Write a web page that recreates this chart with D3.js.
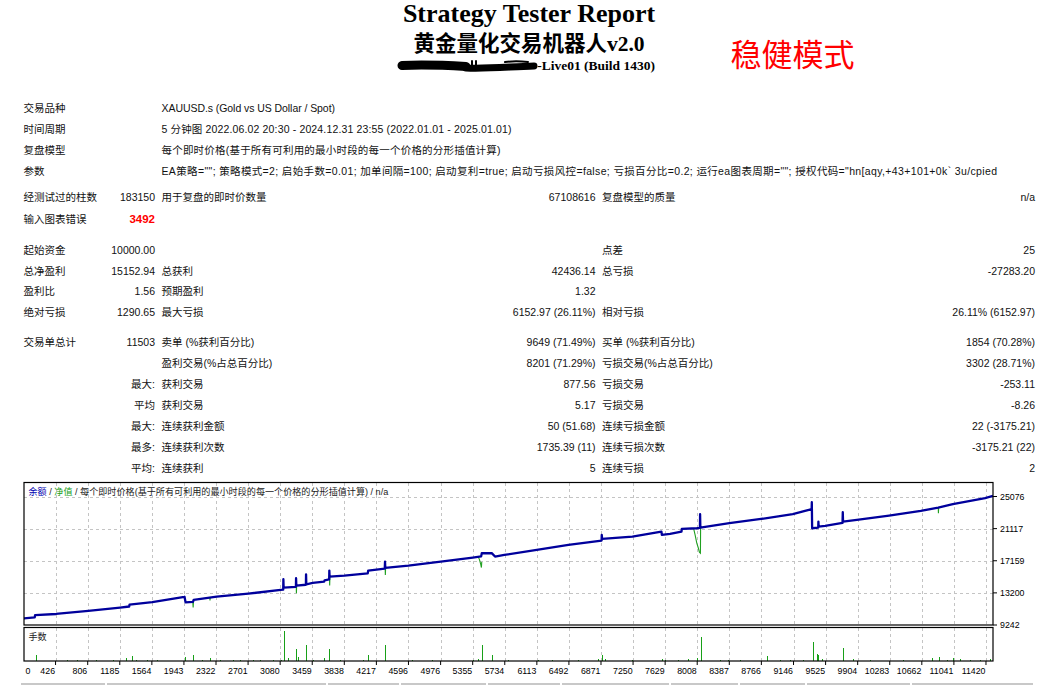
<!DOCTYPE html>
<html>
<head>
<meta charset="utf-8">
<title>Strategy Tester Report</title>
<script src="https://cdn.jsdelivr.net/npm/d3@7"></script>
<style>
  body { margin: 0; background: #fff; }
  svg { display: block; }
  .tbl { font-family: "Liberation Sans", "Noto Sans CJK SC", sans-serif; font-size: 10.5px; fill: #111; }
  .axis-lbl { font-family: "Liberation Sans", "Noto Sans CJK SC", sans-serif; font-size: 8.8px; fill: #000; }
  .legend { font-family: "Liberation Sans", "Noto Sans CJK SC", sans-serif; font-size: 9.1px; fill: #222; }
</style>
</head>
<body>
<div id="report"></div>
<script>
// report header texts
const TITLE = "Strategy Tester Report";
const SUBTITLE = "黄金量化交易机器人v2.0";
const SERVER = "-Live01 (Build 1430)";
const MODE = "稳健模式";

// top info block
const INFO_LABELS = ["交易品种", "时间周期", "复盘模型", "参数"];
const INFO_VALUES = [
  "XAUUSD.s (Gold vs US Dollar / Spot)",
  "5 分钟图 2022.06.02 20:30 - 2024.12.31 23:55 (2022.01.01 - 2025.01.01)",
  "每个即时价格(基于所有可利用的最小时段的每一个价格的分形插值计算)",
  "EA策略=\"\"; 策略模式=2; 启始手数=0.01; 加单间隔=100; 启动复利=true; 启动亏损风控=false; 亏损百分比=0.2; 运行ea图表周期=\"\"; 授权代码=\"hn[aqy,+43+101+0k` 3u/cpied"
];

// results table: label, value, label, value, label, value
const STAT_ROWS = [
  ["经测试过的柱数", "183150", "用于复盘的即时价数量", "67108616", "复盘模型的质量", "n/a"],
  ["输入图表错误", "3492", "", "", "", ""],
  ["起始资金", "10000.00", "", "", "点差", "25"],
  ["总净盈利", "15152.94", "总获利", "42436.14", "总亏损", "-27283.20"],
  ["盈利比", "1.56", "预期盈利", "1.32", "", ""],
  ["绝对亏损", "1290.65", "最大亏损", "6152.97 (26.11%)", "相对亏损", "26.11% (6152.97)"],
  ["交易单总计", "11503", "卖单 (%获利百分比)", "9649 (71.49%)", "买单 (%获利百分比)", "1854 (70.28%)"],
  ["", "", "盈利交易(%占总百分比)", "8201 (71.29%)", "亏损交易(%占总百分比)", "3302 (28.71%)"],
  ["", "最大:", "获利交易", "877.56", "亏损交易", "-253.11"],
  ["", "平均", "获利交易", "5.17", "亏损交易", "-8.26"],
  ["", "最大:", "连续获利金额", "50 (51.68)", "连续亏损金额", "22 (-3175.21)"],
  ["", "最多:", "连续获利次数", "1735.39 (11)", "连续亏损次数", "-3175.21 (22)"],
  ["", "平均:", "连续获利", "5", "连续亏损", "2"]
];

// chart: balance by trade number
const BALANCE = [
  [0, 10000], [180, 10190], [184, 10450], [431, 10600], [813, 10970], [1188, 11390],
  [1296, 11520], [1300, 11750], [1569, 12060], [1948, 12700], [1950, 12720], [1962, 12040],
  [2050, 12080], [2058, 12330], [2330, 12740], [2704, 13110], [3086, 13560], [3116, 13600],
  [3118, 14880], [3121, 13850], [3266, 13950], [3268, 15000], [3271, 14100], [3384, 14200],
  [3386, 15490], [3389, 14260], [3465, 14420], [3600, 14600], [3605, 14750], [3659, 14850],
  [3661, 15950], [3664, 15210], [3838, 15330], [4115, 15600], [4120, 15950], [4316, 16180],
  [4319, 17060], [4322, 16280], [4595, 16566], [4978, 17060], [5356, 17553], [5455, 17700],
  [5462, 18083], [5580, 18100], [5619, 17676], [5729, 17873], [6112, 18490], [6486, 19106],
  [6878, 19649], [6880, 20339], [6884, 19846], [7242, 20142], [7585, 20758], [7590, 20339],
  [7687, 20462], [7822, 20758], [7826, 21079], [8003, 21165], [8040, 21200], [8042, 22891],
  [8045, 21251], [8388, 21782], [8763, 22312], [9137, 22891], [9360, 23508], [9362, 24371],
  [9366, 21165], [9438, 21250], [9440, 21991], [9443, 21375], [9519, 21450], [9725, 21819],
  [9728, 23138], [9731, 21990], [9894, 22200], [10275, 22731], [10650, 23298], [10856, 23718],
  [11028, 24124], [11410, 24864], [11503, 25153]
];

// equity drawdowns below the balance line
const EQUITY_DIPS = [
  [[2048, 12080], [2052, 11390], [2056, 12250]],
  [[2249, 12640], [2251, 12250], [2253, 12640]],
  [[3270, 14100], [3272, 13150], [3275, 14100]],
  [[3663, 15210], [3665, 14100], [3668, 15210]],
  [[4321, 16280], [4323, 15400], [4326, 16280]],
  [[5420, 17650], [5435, 17300], [5450, 16700], [5458, 16320], [5462, 17000]],
  [[7965, 21150], [7983, 20340], [8003, 19320], [8022, 18700], [8034, 18200], [8046, 18080], [8048, 21250]],
  [[10856, 23718], [10858, 23015], [10861, 23740]]
];

// lots per trade (only visible spikes)
const VOLUME = [
  [195, 0.06], [558, 0.01], [676, 0.01], [904, 0.01], [1109, 0.01], [1259, 0.03], [1326, 0.05],
  [1377, 0.01], [1503, 0.01], [1629, 0.01], [1956, 0.04], [2054, 0.06], [2153, 0.01], [2251, 0.03],
  [2369, 0.01], [2527, 0.01], [2606, 0.01], [2763, 0.01], [2842, 0.01], [3000, 0.01], [3087, 0.01],
  [3126, 0.30], [3169, 0.03], [3268, 0.12], [3295, 0.04], [3386, 0.16], [3472, 0.01], [3598, 0.03],
  [3661, 0.12], [3788, 0.01], [4063, 0.01], [4122, 0.06], [4319, 0.16], [4635, 0.01], [4871, 0.01],
  [5363, 0.01], [5422, 0.02], [5462, 0.16], [5580, 0.06], [5777, 0.01], [6131, 0.01], [6289, 0.01],
  [6604, 0.01], [6840, 0.02], [6880, 0.06], [6919, 0.02], [7235, 0.01], [7589, 0.02], [7628, 0.01],
  [7786, 0.01], [7904, 0.02], [8003, 0.03], [8050, 0.24], [8278, 0.01], [8377, 0.01], [8515, 0.01],
  [8830, 0.05], [8987, 0.01], [9105, 0.01], [9263, 0.01], [9374, 0.19], [9421, 0.07], [9440, 0.06],
  [9480, 0.02], [9736, 0.13], [9854, 0.02], [10051, 0.01], [10445, 0.01], [10780, 0.03], [10870, 0.04],
  [10957, 0.01], [11035, 0.03], [11113, 0.02], [11226, 0.01], [11344, 0.01], [11462, 0.02]
];

const X_TICKS = [0, 426, 806, 1185, 1564, 1943, 2322, 2701, 3080, 3459, 3838, 4217, 4596, 4976,
  5355, 5734, 6113, 6492, 6871, 7250, 7629, 8008, 8387, 8766, 9146, 9525, 9904, 10283, 10662,
  11041, 11420];
const Y_TICKS = [9242, 13200, 17159, 21117, 25076];
const TOTAL_TRADES = 11503;

// layout
const FRAME_WIDTH = 1056;
const FRAME_HEIGHT = 685;
const MAIN = {left: 24, right: 993, top: 482.5, bottom: 625};
const VOL = {top: 627.5, bottom: 661};
const COL = {a: 23.5, b: 155, c: 161.5, d: 595.5, e: 602, f: 1035};
const INFO_Y = [107.5, 128.5, 149.5, 170.5];
const INFO_LEN = [173.5, 350, 339, 835.5];
const STAT_Y = [197, 218.5, 249.5, 270.5, 291, 312, 342, 363, 383.5, 404.5, 426, 447, 468];

const FRAME = d3.select("#report")
  .append("svg")
    .attr("width", FRAME_WIDTH)
    .attr("height", FRAME_HEIGHT);

// ---- header ----
FRAME.append("text")
  .attr("x", 529).attr("y", 22)
  .attr("text-anchor", "middle")
  .style("font-family", "'Liberation Serif', serif")
  .style("font-weight", "bold")
  .style("font-size", "26px")
  .text(TITLE);

FRAME.append("text")
  .attr("x", 529).attr("y", 50.5)
  .attr("text-anchor", "middle")
  .style("font-family", "'Liberation Serif', 'Noto Sans CJK SC', serif")
  .style("font-weight", "bold")
  .style("font-size", "21.5px")
  .text(SUBTITLE);

// redacted server name
const INK = FRAME.append("g")
  .attr("fill", "none")
  .attr("stroke", "#000")
  .attr("stroke-linecap", "round");
INK.append("path")
  .attr("d", "M402,65.5 C425,64.5 448,65.5 466,66.5")
  .attr("stroke-width", 9);
INK.append("path")
  .attr("d", "M466,68 C488,69 512,66.5 534,66")
  .attr("stroke-width", 7);
INK.append("path")
  .attr("d", "M472,61 V66 M476,61 V66 M505,62 C512,61 520,61 528,62")
  .attr("stroke-width", 2);

FRAME.append("text")
  .attr("x", 655).attr("y", 69.5)
  .attr("text-anchor", "end")
  .style("font-family", "'Liberation Serif', serif")
  .style("font-weight", "bold")
  .style("font-size", "13.5px")
  .text(SERVER);

FRAME.append("text")
  .attr("x", 792.5).attr("y", 65.5)
  .attr("text-anchor", "middle")
  .style("font-family", "'Noto Sans CJK SC', sans-serif")
  .style("font-size", "31px")
  .style("fill", "#f00")
  .text(MODE);

// ---- info rows ----
INFO_LABELS.forEach((lbl, i) => {
  FRAME.append("text").attr("class", "tbl")
    .attr("x", COL.a).attr("y", INFO_Y[i])
    .attr("dominant-baseline", "central")
    .text(lbl);
  FRAME.append("text").attr("class", "tbl")
    .attr("x", COL.c).attr("y", INFO_Y[i])
    .attr("dominant-baseline", "central")
    .attr("textLength", INFO_LEN[i])
    .attr("lengthAdjust", "spacing")
    .text(INFO_VALUES[i]);
});

// ---- stat rows ----
const ANCHORS = ["start", "end", "start", "end", "start", "end"];
const XS = [COL.a, COL.b, COL.c, COL.d, COL.e, COL.f];
STAT_ROWS.forEach((row, r) => {
  row.forEach((cell, c) => {
    if (cell === "") return;
    const t = FRAME.append("text").attr("class", "tbl")
      .attr("x", XS[c]).attr("y", STAT_Y[r])
      .attr("dominant-baseline", "central")
      .attr("text-anchor", ANCHORS[c])
      .text(cell);
    // chart errors value is highlighted
    if (r === 1 && c === 1) {
      t.style("fill", "#f00").style("font-weight", "bold").style("font-size", "11.5px");
    }
  });
});

// ---- chart ----
const X_SCALE = d3.scaleLinear()
  .domain([0, TOTAL_TRADES])
  .range([19.5, MAIN.right]);
const Y_SCALE = d3.scaleLinear()
  .domain([Y_TICKS[0], Y_TICKS[Y_TICKS.length - 1]])
  .range([MAIN.bottom, 496.5]);
const V_SCALE = d3.scaleLinear()
  .domain([0, 0.335])
  .range([VOL.bottom, VOL.top]);

FRAME.append("clipPath").attr("id", "mainClip")
  .append("rect")
    .attr("x", MAIN.left).attr("y", MAIN.top)
    .attr("width", MAIN.right - MAIN.left).attr("height", MAIN.bottom - MAIN.top);

// grid
const GRID = FRAME.append("g")
  .attr("stroke", "#c4c4c4")
  .attr("stroke-dasharray", "3,3")
  .attr("shape-rendering", "crispEdges");

GRID.selectAll("vline")
  .data(X_TICKS.filter((d) => d > 0))
  .enter()
  .append("path")
    .attr("d", (d) => {
      const x = Math.round(X_SCALE(d)) + 0.5;
      return "M" + x + "," + MAIN.top + "V" + MAIN.bottom + "M" + x + "," + VOL.top + "V" + VOL.bottom;
    });

GRID.selectAll("hline")
  .data(Y_TICKS.slice(1))
  .enter()
  .append("line")
    .attr("x1", MAIN.left).attr("x2", MAIN.right)
    .attr("y1", (d) => Math.round(Y_SCALE(d)) + 0.5)
    .attr("y2", (d) => Math.round(Y_SCALE(d)) + 0.5);

// equity (green) under balance (blue)
const LINE = d3.line()
  .x((d) => X_SCALE(d[0]))
  .y((d) => Y_SCALE(d[1]));

const PLOT = FRAME.append("g").attr("clip-path", "url(#mainClip)");

PLOT.selectAll("dips")
  .data(EQUITY_DIPS)
  .enter()
  .append("path")
    .attr("d", LINE)
    .attr("fill", "none")
    .attr("stroke", "#20a020")
    .attr("stroke-width", 1.1);

PLOT.append("path")
  .datum(BALANCE)
  .attr("d", LINE)
  .attr("fill", "none")
  .attr("stroke", "#00009c")
  .attr("stroke-width", 2.3)
  .attr("stroke-linejoin", "round");

// lots bars
FRAME.selectAll("bars")
  .data(VOLUME)
  .enter()
  .append("line")
    .attr("x1", (d) => Math.round(X_SCALE(d[0])) + 0.5)
    .attr("x2", (d) => Math.round(X_SCALE(d[0])) + 0.5)
    .attr("y1", VOL.bottom)
    .attr("y2", (d) => Math.min(V_SCALE(d[1]), VOL.bottom - 1))
    .attr("stroke", "#18a018")
    .attr("stroke-width", 1);

// panel frames
FRAME.append("rect")
  .attr("x", MAIN.left).attr("y", MAIN.top)
  .attr("width", MAIN.right - MAIN.left).attr("height", MAIN.bottom - MAIN.top)
  .attr("fill", "none").attr("stroke", "#000").attr("stroke-width", 1.2);
FRAME.append("rect")
  .attr("x", MAIN.left).attr("y", VOL.top)
  .attr("width", MAIN.right - MAIN.left).attr("height", VOL.bottom - VOL.top)
  .attr("fill", "none").attr("stroke", "#000").attr("stroke-width", 1.2);

// y axis labels on the right
FRAME.selectAll("ylbl")
  .data(Y_TICKS)
  .enter()
  .append("g")
    .each(function (d) {
      const g = d3.select(this);
      const y = Y_SCALE(d);
      g.append("line")
        .attr("x1", MAIN.right).attr("x2", MAIN.right + 4)
        .attr("y1", y).attr("y2", y)
        .attr("stroke", "#000");
      g.append("text").attr("class", "axis-lbl")
        .attr("x", MAIN.right + 7).attr("y", y)
        .attr("dominant-baseline", "central")
        .text(d);
    });

// x axis labels, right aligned to the grid line
FRAME.selectAll("xlbl")
  .data(X_TICKS)
  .enter()
  .append("g")
    .each(function (d, i) {
      const g = d3.select(this);
      const x = X_SCALE(d);
      if (i > 0) {
        g.append("line")
          .attr("x1", x).attr("x2", x)
          .attr("y1", VOL.bottom).attr("y2", VOL.bottom + 4)
          .attr("stroke", "#000");
      }
      g.append("text").attr("class", "axis-lbl")
        .attr("x", i === 0 ? MAIN.left + 1.5 : x - 0.5)
        .attr("y", 670.5)
        .attr("dominant-baseline", "central")
        .attr("text-anchor", i === 0 ? "start" : "end")
        .text(d);
    });

// panel captions
const LEG = FRAME.append("text").attr("class", "legend")
  .attr("x", 28.5).attr("y", 491.5)
  .attr("dominant-baseline", "central");
LEG.append("tspan").style("fill", "#0000b0").text("余额");
LEG.append("tspan").text(" / ");
LEG.append("tspan").style("fill", "#20a020").text("净值");
LEG.append("tspan").text(" / 每个即时价格(基于所有可利用的最小时段的每一个价格的分形插值计算) / n/a");

FRAME.append("text").attr("class", "legend")
  .attr("x", 28.5).attr("y", 637)
  .attr("dominant-baseline", "central")
  .text("手数");

// header cells of the next table, cut by the page edge
const STRIP = [[21, 105], [107, 326], [328, 399], [401, 486], [488, 560], [562, 669],
  [671, 738], [740, 805], [807, 910], [912, 1033]];
FRAME.selectAll("strip")
  .data(STRIP)
  .enter()
  .append("rect")
    .attr("x", (d) => d[0]).attr("width", (d) => d[1] - d[0])
    .attr("y", 683).attr("height", 3)
    .attr("fill", "#c8c8c8");
</script>
</body>
</html>
